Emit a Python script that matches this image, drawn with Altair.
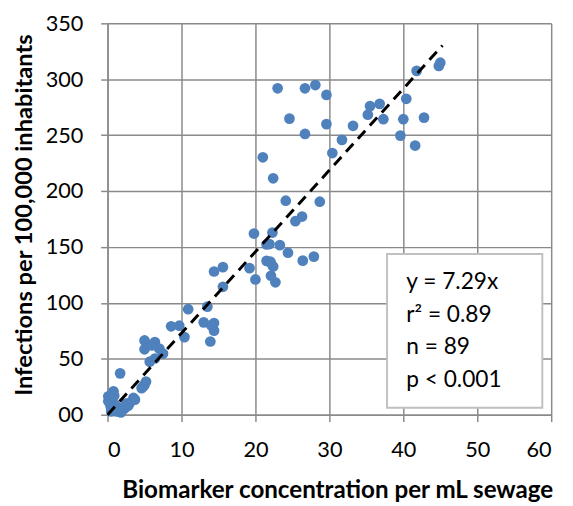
import altair as alt
import pandas as pd

# Scatter data (biomarker concentration vs infections)
bx = [14.4, 15.6, 15.6, 19.2, 20.0, 10.9, 13.5, 8.6, 9.7, 10.4, 13.0, 14.4, 14.4, 13.9,
      5.0, 6.4, 5.0, 7.0, 7.5, 5.7, 6.4, 1.7, 5.0, 4.6, 3.5, 3.0, 0.8, 0.1, 1.5, 2.1,
      0.1, 0.4, 2.4, 3.7, 4.8, 5.2, 0.5, 1.0, 1.8, 2.8, 0.3,
      23.0, 26.7, 28.1, 29.6, 24.6, 29.6, 26.7, 33.2, 31.7, 30.4, 21.0, 22.4, 24.1, 28.7,
      26.3, 25.4, 19.8, 22.3, 21.5, 21.9, 23.3, 24.4, 26.4, 27.9, 21.5, 22.1, 22.4, 22.1, 22.7,
      45.0, 44.8, 41.8, 40.4, 35.5, 36.8, 35.2, 37.3, 40.0, 42.8, 39.6, 41.6,
      0.6, 1.2, 2.5, 14.0, 22.0, 6.0, 0.9]
inf = [128.1, 132.0, 114.4, 131.1, 121.0, 94.4, 96.7, 79.1, 79.6, 69.4, 82.6, 82.0, 75.2, 65.5,
       66.4, 65.0, 58.5, 59.1, 54.7, 47.4, 50.3, 37.0, 26.7, 23.8, 15.0, 10.6, 20.9, 12.1, 6.2, 4.7,
       16.5, 7.7, 6.2, 13.5, 25.3, 29.7, 3.0, 9.0, 2.0, 8.0, 11.0,
       291.9, 291.9, 294.8, 286.0, 264.8, 259.9, 251.1, 258.4, 245.8, 234.0, 230.2, 211.4, 191.4, 190.5,
       177.2, 173.1, 162.0, 162.9, 152.3, 152.6, 151.7, 144.9, 137.8, 141.4, 137.6, 135.5, 132.5, 124.3, 118.4,
       314.8, 311.9, 307.5, 282.5, 276.0, 278.0, 268.3, 264.3, 264.3, 265.7, 249.6, 240.7,
       5.0, 3.0, 10.0, 80.0, 137.0, 62.0, 17.0]

# Fitted line y = 7.29x
line_x = [0.0, 45.3]
line_y = [0.0, 330.2]

# Statistics box
stats_text = ["y = 7.29x", "r\u00b2 = 0.89", "n = 89", "p < 0.001"]
stats_y = [112.4, 83.3, 54.2, 25.1]
box_x = [37.8]
box_x2 = [58.8]
box_y = [6.2]
box_y2 = [143.7]

x_ticks = [0, 10, 20, 30, 40, 50, 60]
y_ticks = [0, 50, 100, 150, 200, 250, 300, 350]

pts = pd.DataFrame({"x": bx, "y": inf})
fit = pd.DataFrame({"x": line_x, "y": line_y})
box = pd.DataFrame({"x": box_x, "x2": box_x2, "y": box_y, "y2": box_y2})
txt = pd.DataFrame({"label": stats_text, "x": [40.4] * 4, "y": stats_y})

FONT = "Lato"
GRID = "#8a8a8a"

xscale = alt.Scale(domain=[0, 60], nice=False, zero=False)
yscale = alt.Scale(domain=[0, 350], nice=False, zero=False)

xaxis = alt.Axis(
    title="Biomarker concentration per mL sewage",
    values=x_ticks, format="d",
    labelFont=FONT, labelFontSize=22, labelColor="black", labelPadding=18,
    tickSize=7, tickColor=GRID, tickWidth=1.5,
    domainColor=GRID, domainWidth=1.5,
    grid=True, gridColor=GRID, gridWidth=1.5,
    titleFont=FONT, titleFontSize=24.5, titleFontWeight="bold", titleColor="black",
    titleX=233, titleY=84, titleBaseline="alphabetic", titleAlign="center",
)
yaxis = alt.Axis(
    title="Infections per 100,000 inhabitants",
    values=y_ticks,
    labelExpr="datum.value == 0 ? '00' : datum.label",
    labelFont=FONT, labelFontSize=22, labelColor="black", labelPadding=18,
    tickSize=7, tickColor=GRID, tickWidth=1.5,
    domainColor=GRID, domainWidth=1.5,
    grid=True, gridColor=GRID, gridWidth=1.5,
    titleFont=FONT, titleFontSize=24, titleFontWeight="bold", titleColor="black",
    titleX=-77, titleY=194, titleBaseline="alphabetic", titleAlign="center", titleAngle=270,
)

points = alt.Chart(pts).mark_circle(size=118, opacity=1, color="#4f81bd").encode(
    x=alt.X("x:Q", scale=xscale, axis=xaxis),
    y=alt.Y("y:Q", scale=yscale, axis=yaxis),
)

line = alt.Chart(fit).mark_line(color="black", strokeWidth=3, strokeDash=[11, 7]).encode(
    x=alt.X("x:Q", scale=xscale),
    y=alt.Y("y:Q", scale=yscale),
)

rect = alt.Chart(box).mark_rect(fill="white", stroke="#c0c0c0", strokeWidth=2).encode(
    x=alt.X("x:Q", scale=xscale), x2="x2:Q",
    y=alt.Y("y:Q", scale=yscale), y2="y2:Q",
)

text = alt.Chart(txt).mark_text(
    align="left", baseline="alphabetic", font=FONT, fontSize=23, color="black"
).encode(
    x=alt.X("x:Q", scale=xscale),
    y=alt.Y("y:Q", scale=yscale),
    text="label:N",
)

chart = alt.layer(points, line, rect, text).properties(
    width=450, height=397,
    autosize=alt.AutoSizeParams(type="none"),
    padding={"left": 101, "top": 12, "right": 14, "bottom": 88},
).configure_view(stroke=None)

chart.save("out.html", embed_options={"renderer": "svg", "actions": False})
